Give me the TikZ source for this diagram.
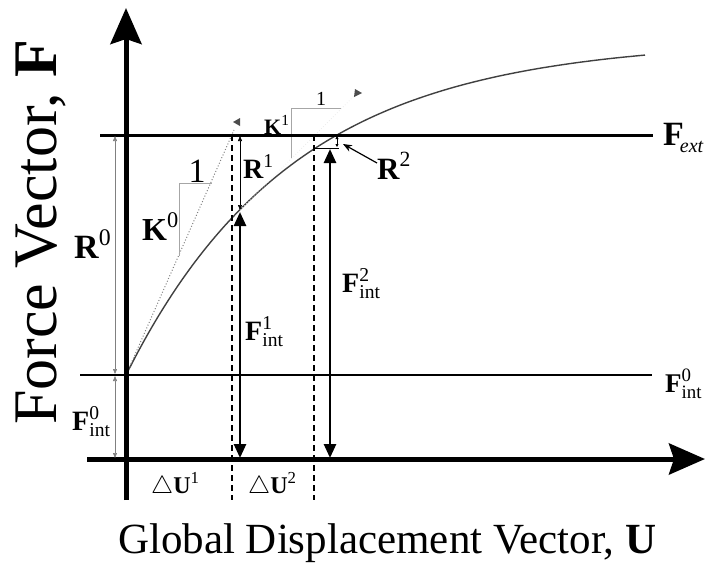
\documentclass[tikz,border=0pt]{standalone}
\usepackage{fontspec}
\usepackage{amsmath}
\setmainfont{Liberation Serif}
\usetikzlibrary{arrows.meta}
\begin{document}
\begin{tikzpicture}[x=1pt,y=-1pt,
  lab/.style={inner sep=0pt, anchor=base west},
  axisline/.style={line width=5pt, -{Stealth[length=36pt,width=31pt,inset=5pt]}},
  levelline/.style={line width=2.6pt},
  dashline/.style={line width=1.2pt, dash pattern=on 6pt off 4pt},
  thinarrow/.style={line width=0.6pt, gray, {Triangle[length=5pt,width=4pt]}-{Triangle[length=5pt,width=4pt]}},
  thickarrow/.style={line width=2.6pt, {Triangle[length=14pt,width=12pt]}-{Triangle[length=14pt,width=12pt]}},
  slopeline/.style={line width=0.7pt, gray!70},
  curveline/.style={line width=1.4pt, black!75},
  tinytip/.style={fill=black!70, draw=none}
]
\useasboundingbox (0,0) rectangle (707,566);
% key coordinates
\coordinate (yb) at (126,500);
\coordinate (yt) at (126,8);
\coordinate (xl) at (87,459);
\coordinate (xr) at (705,459);
\coordinate (fe1) at (100,135);
\coordinate (fe2) at (653,135);
\coordinate (fi1) at (80,375);
\coordinate (fi2) at (652,375);
\coordinate (O) at (126,375);
\coordinate (P1) at (240,210);
\coordinate (d1t) at (232,135);
\coordinate (d1b) at (232,500);
\coordinate (d2t) at (314,135);
\coordinate (d2b) at (314,500);
% curve
\draw[curveline] plot[domain=126:645,samples=80,smooth] (\x,{40+335*exp(-(\x-126)/167.4)});
% tangents
\coordinate (t0e) at (234,130);
\draw[gray, line width=1pt, dotted] (O) -- (t0e);
\coordinate (t1e) at (355,95);
\draw[gray!15, line width=0.8pt, dotted] (P1) -- (t1e);
\fill[tinytip] (233,122) -- (240,118) -- (240,126) -- cycle;
\fill[tinytip] (354,97) -- (355,89) -- (362,93) -- cycle;
% slope triangles
\coordinate (s0a) at (179,256);
\coordinate (s0b) at (179,183);
\coordinate (s0c) at (212,183);
\draw[slopeline] (s0a) -- (s0b) -- (s0c);
\coordinate (s1a) at (291,158);
\coordinate (s1b) at (291,108);
\coordinate (s1c) at (341,108);
\draw[slopeline] (s1a) -- (s1b) -- (s1c);
% level lines
\draw[levelline, line width=3pt] (fe1) -- (fe2);
\draw[levelline] (fi1) -- (fi2);
% dashed lines
\draw[dashline] (d1t) -- (d1b);
\draw[dashline] (d2t) -- (d2b);
% axes
\draw[axisline] (xl) -- (xr);
\draw[axisline] (yb) -- (yt);
% thin arrows
\coordinate (r0t) at (115,136);
\coordinate (r0b) at (115,374);
\coordinate (f0t) at (115,376);
\coordinate (f0b) at (115,458);
\draw[thinarrow] (r0b) -- (r0t);
\draw[thinarrow] (f0b) -- (f0t);
\coordinate (r1t) at (240,136);
\coordinate (r1b) at (240,210);
\draw[thinarrow, black] (r1b) -- (r1t);
% thick arrows
\coordinate (f1t) at (240,212);
\coordinate (f1b) at (240,458);
\draw[thickarrow] (f1b) -- (f1t);
\coordinate (f2t) at (330,149);
\coordinate (f2b) at (330,458);
\draw[thickarrow] (f2b) -- (f2t);
% R2 details
\coordinate (r2t) at (337,136);
\coordinate (r2b) at (337,147);
\draw[line width=1pt, {Triangle[length=3pt,width=3pt]}-{Triangle[length=3pt,width=3pt]}] (r2b) -- (r2t);
\coordinate (h2a) at (314,148);
\coordinate (h2b) at (339,148);
\draw[line width=1pt] (h2a) -- (h2b);
\coordinate (r2p) at (377,163);
\coordinate (r2q) at (343,144);
\draw[line width=1.2pt, -{Stealth[length=9pt,width=7pt]}] (r2p) -- (r2q);
% labels
\node[lab, font=\fontsize{34}{34}\selectfont] (R0) at (74,258) {$\text{\bfseries R}^{\text{0}}$};
\node[lab, font=\fontsize{28}{28}\selectfont] (Fi0l) at (72,430) {$\text{\bfseries F}^{\text{0}}_{\text{int}}$};
\node[lab, font=\fontsize{32}{32}\selectfont] (K0) at (142,240) {$\text{\bfseries K}^{\text{0}}$};
\node[lab, anchor=base, font=\fontsize{34}{34}\selectfont] (one0) at (197,182) {1};
\node[lab, font=\fontsize{28}{28}\selectfont] (R1) at (243,178) {$\text{\bfseries R}^{\text{1}}$};
\node[lab, font=\fontsize{22}{22}\selectfont] (K1) at (264,134) {$\text{\bfseries K}^{\text{1}}$};
\node[lab, anchor=base, font=\fontsize{20}{20}\selectfont] (one1) at (321,105) {1};
\node[lab, font=\fontsize{31}{31}\selectfont] (R2) at (377,179) {$\text{\bfseries R}^{\text{2}}$};
\node[lab, font=\fontsize{34}{34}\selectfont] (Fext) at (663,145) {\bfseries F\kern-4pt\raisebox{-7pt}{\fontsize{20}{20}\selectfont\mdseries\itshape ext}};
\node[lab, font=\fontsize{27}{27}\selectfont] (Fi0r) at (665,392) {$\text{\bfseries F}^{\text{0}}_{\text{int}}$};
\node[lab, font=\fontsize{28}{28}\selectfont] (Fi1) at (245,340) {$\text{\bfseries F}^{\text{1}}_{\text{int}}$};
\node[lab, font=\fontsize{28}{28}\selectfont] (Fi2) at (342,292) {$\text{\bfseries F}^{\text{2}}_{\text{int}}$};
\node[lab, font=\fontsize{24}{24}\selectfont] (dU1) at (151,493) {$\triangle\text{\bfseries U}^{\text{1}}$};
\node[lab, font=\fontsize{24}{24}\selectfont] (dU2) at (248,493) {$\triangle\text{\bfseries U}^{\text{2}}$};
\node[lab, font=\fontsize{43}{43}\selectfont] (xlab) at (118,553) {Global Displacement Vector, \textbf{U}};
\node[lab, rotate=90, font=\fontsize{62}{62}\selectfont] (ylab) at (56,425) {Force Vector, \textbf{F}};
\end{tikzpicture}
\end{document}
